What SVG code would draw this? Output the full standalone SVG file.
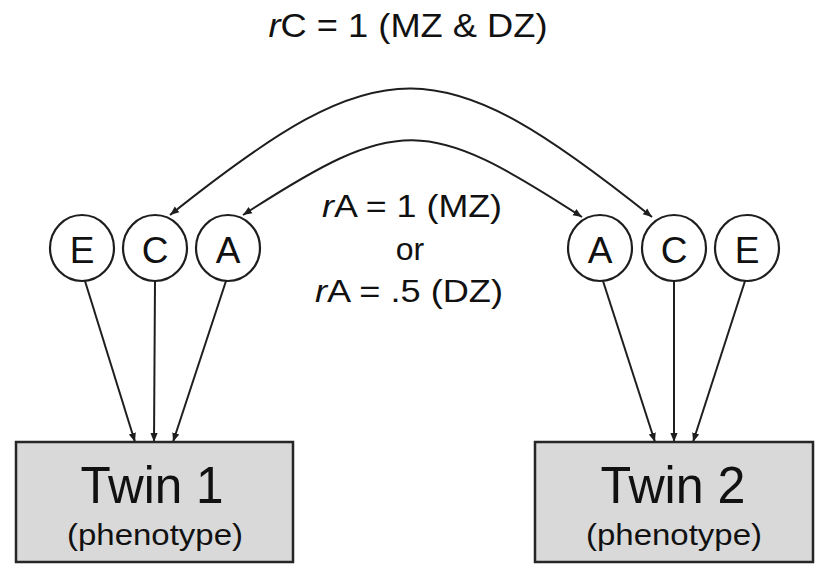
<svg xmlns="http://www.w3.org/2000/svg" width="825" height="574" viewBox="0 0 825 574">
<style>
text{font-family:"Liberation Sans",Arial,sans-serif;fill:#111;text-anchor:middle}
.lat{fill:#fff;stroke:#1e1e1e;stroke-width:2.2}
.box{fill:#d9d9d9;stroke:#262626;stroke-width:2.5}
.con{fill:none;stroke:#1e1e1e;stroke-width:2}
.lbl{font-size:34px}
.ltr{font-size:37px}
.big{font-size:52px}
.sub{font-size:29px}
.mid{font-size:32px}
</style>
<defs>
<marker id="ah" viewBox="0 0 10 10" refX="10" refY="5" markerWidth="9" markerHeight="9" markerUnits="userSpaceOnUse" orient="auto-start-reverse">
<path d="M0,1 L10,5 L0,9 Z" fill="#1e1e1e"/>
</marker>
</defs>
<rect width="825" height="574" fill="#fff"/>
<g id="connectors">
<path class="con" d="M170,215 C383,45 439,47 652,217" marker-start="url(#ah)" marker-end="url(#ah)"/>
<path class="con" d="M243,215 C399,114 426,116 582,217" marker-start="url(#ah)" marker-end="url(#ah)"/>
<line class="con" x1="85" y1="281" x2="135" y2="442" marker-end="url(#ah)"/>
<line class="con" x1="155" y1="281" x2="154" y2="442" marker-end="url(#ah)"/>
<line class="con" x1="226" y1="281" x2="173" y2="442" marker-end="url(#ah)"/>
<line class="con" x1="603" y1="281" x2="655" y2="442" marker-end="url(#ah)"/>
<line class="con" x1="674" y1="281" x2="674" y2="442" marker-end="url(#ah)"/>
<line class="con" x1="745" y1="281" x2="693" y2="442" marker-end="url(#ah)"/>
</g>
<g id="E1"><ellipse class="lat" cx="82" cy="248" rx="32" ry="33"/><text class="ltr" x="82" y="263">E</text></g>
<g id="C1"><ellipse class="lat" cx="155" cy="248" rx="32" ry="33"/><text class="ltr" x="155" y="263">C</text></g>
<g id="A1"><ellipse class="lat" cx="228" cy="248" rx="32" ry="33"/><text class="ltr" x="228" y="263">A</text></g>
<g id="A2"><ellipse class="lat" cx="600" cy="248" rx="32" ry="33"/><text class="ltr" x="600" y="263">A</text></g>
<g id="C2"><ellipse class="lat" cx="674" cy="248" rx="32" ry="33"/><text class="ltr" x="674" y="263">C</text></g>
<g id="E2"><ellipse class="lat" cx="747" cy="248" rx="32" ry="33"/><text class="ltr" x="747" y="263">E</text></g>
<g id="twin1"><rect class="box" x="16" y="442" width="277" height="120"/><text class="big" x="152" y="503" textLength="143" lengthAdjust="spacingAndGlyphs">Twin 1</text><text class="sub" x="155" y="545" textLength="176" lengthAdjust="spacingAndGlyphs">(phenotype)</text></g>
<g id="twin2"><rect class="box" x="535" y="442" width="278" height="120"/><text class="big" x="673" y="503" textLength="145" lengthAdjust="spacingAndGlyphs">Twin 2</text><text class="sub" x="674" y="545" textLength="176" lengthAdjust="spacingAndGlyphs">(phenotype)</text></g>
<g id="labels">
<text class="lbl" x="408" y="37" textLength="279" lengthAdjust="spacingAndGlyphs"><tspan font-style="italic">r</tspan>C = 1 (MZ &amp; DZ)</text>
<text class="mid" x="412" y="217" textLength="180" lengthAdjust="spacingAndGlyphs"><tspan font-style="italic">r</tspan>A = 1 (MZ)</text>
<text class="mid" x="410" y="260">or</text>
<text class="mid" x="409" y="302" textLength="188" lengthAdjust="spacingAndGlyphs"><tspan font-style="italic">r</tspan>A = .5 (DZ)</text>
</g>
</svg>
